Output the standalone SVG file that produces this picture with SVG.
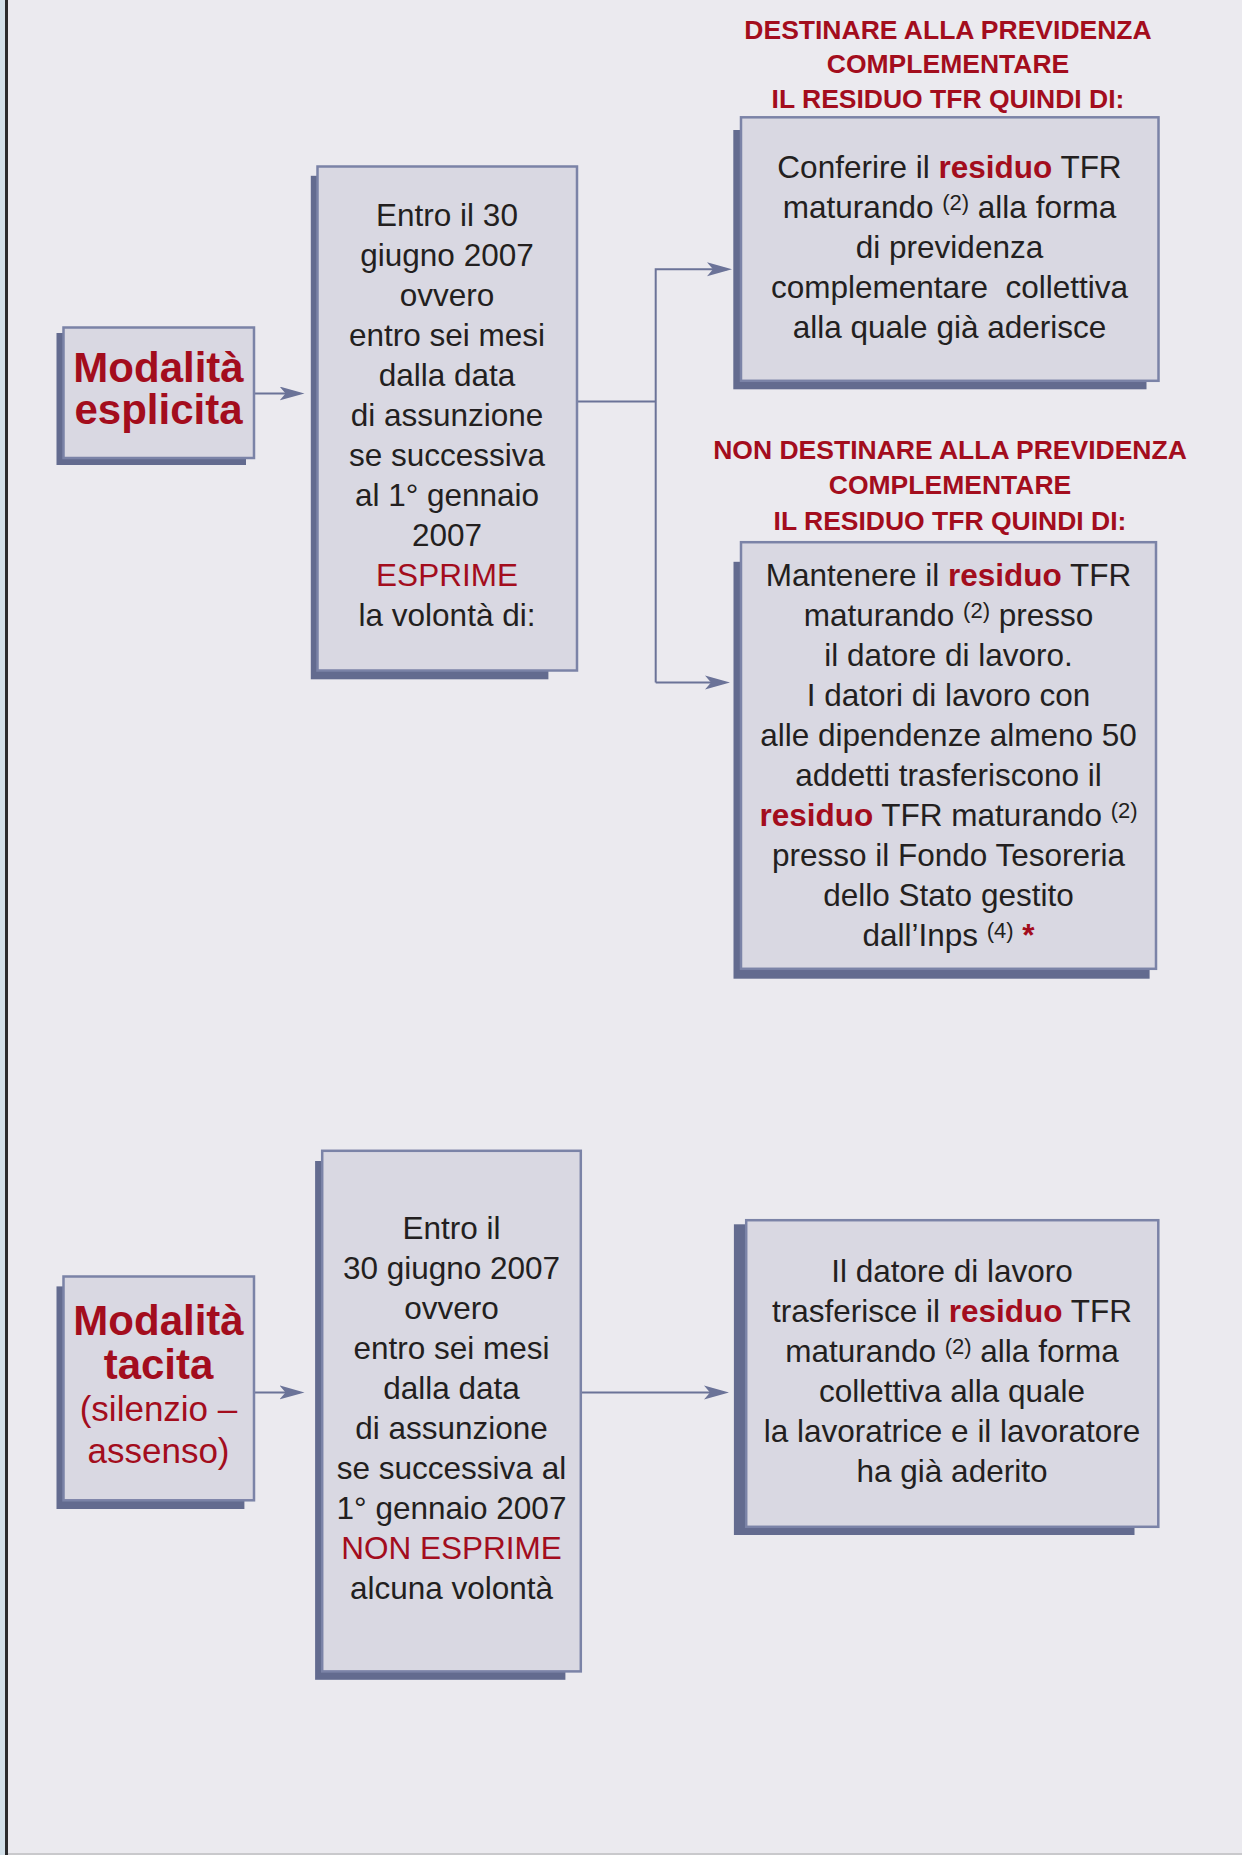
<svg xmlns="http://www.w3.org/2000/svg" width="1242" height="1855" viewBox="0 0 1242 1855">
  <style>
    .t{font-family:"Liberation Sans",Arial,sans-serif;font-size:31.5px;fill:#231f20;text-anchor:middle}
    .r{fill:#a30d1d}
    .b{font-weight:bold}
    .sup{font-size:22px}
    .h{font-family:"Liberation Sans",Arial,sans-serif;font-weight:bold;font-size:26.5px;fill:#a30d1d;text-anchor:middle}
    .m{font-family:"Liberation Sans",Arial,sans-serif;font-weight:bold;font-size:42px;fill:#a30d1d;text-anchor:middle}
    .ms{font-family:"Liberation Sans",Arial,sans-serif;font-size:35px;fill:#a30d1d;text-anchor:middle}
    .frame{fill:#d9d8e2;stroke:#7b83a7;stroke-width:2.5}
    .shadow{fill:#636b8f}
    .conn{stroke:#6b7398;stroke-width:2;fill:none}
  </style>
  <defs>
    <marker id="arr" markerUnits="userSpaceOnUse" markerWidth="26" markerHeight="16" refX="20" refY="7" orient="auto">
      <path d="M0,0 L25,7 L0,14 L6,7 Z" fill="#6b7398"/>
    </marker>
  </defs>

  <rect x="0" y="0" width="1242" height="1855" fill="#ebeaef"/>
  <rect x="0" y="0" width="5" height="1855" fill="#d3e0e9"/>
  <rect x="5" y="0" width="3" height="1855" fill="#2b2b2d"/>
  <rect x="8" y="1853" width="1234" height="2" fill="#c9c9cc"/>

  <g id="connectors">
    <path class="conn" d="M255,393.5 H299.5" marker-end="url(#arr)"/>
    <path class="conn" d="M578,401.4 H655.7"/>
    <path class="conn" d="M655.7,682.4 V269.3 H727" marker-end="url(#arr)"/>
    <path class="conn" d="M655.7,682.4 H725" marker-end="url(#arr)"/>
    <path class="conn" d="M255,1392.4 H299.5" marker-end="url(#arr)"/>
    <path class="conn" d="M582,1392.4 H724" marker-end="url(#arr)"/>
  </g>

  <g id="title-destinare">
    <text class="h" x="948" y="39">DESTINARE ALLA PREVIDENZA</text>
    <text class="h" x="948" y="73">COMPLEMENTARE</text>
    <text class="h" x="948" y="108">IL RESIDUO TFR QUINDI DI:</text>
  </g>

  <g id="title-non-destinare">
    <text class="h" x="950" y="459">NON DESTINARE ALLA PREVIDENZA</text>
    <text class="h" x="950" y="494">COMPLEMENTARE</text>
    <text class="h" x="950" y="529.5">IL RESIDUO TFR QUINDI DI:</text>
  </g>

  <g id="modalita-esplicita">
    <rect class="shadow" x="56.5" y="333" width="189.5" height="132"/>
    <rect class="frame" x="63.5" y="327.5" width="190.5" height="130.5"/>
    <text class="m" x="158.5" y="381.5">Modalità</text>
    <text class="m" x="158.5" y="424">esplicita</text>
  </g>

  <g id="esplicita-condizione">
    <rect class="shadow" x="310.8" y="175.8" width="237.6" height="503.5"/>
    <rect class="frame" x="317.5" y="166.5" width="259.5" height="504"/>
    <text class="t" x="447" y="226">Entro il 30</text>
    <text class="t" x="447" y="266">giugno 2007</text>
    <text class="t" x="447" y="306">ovvero</text>
    <text class="t" x="447" y="346">entro sei mesi</text>
    <text class="t" x="447" y="386">dalla data</text>
    <text class="t" x="447" y="426">di assunzione</text>
    <text class="t" x="447" y="466">se successiva</text>
    <text class="t" x="447" y="506">al 1° gennaio</text>
    <text class="t" x="447" y="546">2007</text>
    <text class="t r" x="447" y="586">ESPRIME</text>
    <text class="t" x="447" y="626">la volontà di:</text>
  </g>

  <g id="conferire">
    <rect class="shadow" x="733.3" y="130" width="413.2" height="259.3"/>
    <rect class="frame" x="741" y="117.3" width="417.5" height="263.5"/>
    <text class="t" x="949.5" y="178">Conferire il <tspan class="r b">residuo</tspan> TFR</text>
    <text class="t" x="949.5" y="218">maturando <tspan class="sup" dy="-8">(2)</tspan><tspan dy="8"> alla forma</tspan></text>
    <text class="t" x="949.5" y="258">di previdenza</text>
    <text class="t" x="949.5" y="298">complementare &#160;collettiva</text>
    <text class="t" x="949.5" y="338">alla quale già aderisce</text>
  </g>

  <g id="mantenere">
    <rect class="shadow" x="733.5" y="561.8" width="416.1" height="416.9"/>
    <rect class="frame" x="741" y="542.2" width="415" height="426.6"/>
    <text class="t" x="948.5" y="586">Mantenere il <tspan class="r b">residuo</tspan> TFR</text>
    <text class="t" x="948.5" y="626">maturando <tspan class="sup" dy="-8">(2)</tspan><tspan dy="8"> presso</tspan></text>
    <text class="t" x="948.5" y="666">il datore di lavoro.</text>
    <text class="t" x="948.5" y="706">I datori di lavoro con</text>
    <text class="t" x="948.5" y="746">alle dipendenze almeno 50</text>
    <text class="t" x="948.5" y="786">addetti trasferiscono il</text>
    <text class="t" x="948.5" y="826"><tspan class="r b">residuo</tspan> TFR maturando <tspan class="sup" dy="-8">(2)</tspan></text>
    <text class="t" x="948.5" y="866">presso il Fondo Tesoreria</text>
    <text class="t" x="948.5" y="906">dello Stato gestito</text>
    <text class="t" x="948.5" y="946">dall’Inps <tspan class="sup" dy="-8">(4)</tspan><tspan class="r b" dy="8"> *</tspan></text>
  </g>

  <g id="modalita-tacita">
    <rect class="shadow" x="56.5" y="1286.4" width="187.9" height="222.6"/>
    <rect class="frame" x="63.5" y="1276.5" width="190.5" height="223.8"/>
    <text class="m" x="158.5" y="1335">Modalità</text>
    <text class="m" x="158.5" y="1378.5">tacita</text>
    <text class="ms" x="158.5" y="1421">(silenzio –</text>
    <text class="ms" x="158.5" y="1463">assenso)</text>
  </g>

  <g id="tacita-condizione">
    <rect class="shadow" x="315.1" y="1161" width="250.3" height="518.8"/>
    <rect class="frame" x="322.2" y="1150.8" width="258.6" height="520.6"/>
    <text class="t" x="451.5" y="1239">Entro il</text>
    <text class="t" x="451.5" y="1279">30 giugno 2007</text>
    <text class="t" x="451.5" y="1319">ovvero</text>
    <text class="t" x="451.5" y="1359">entro sei mesi</text>
    <text class="t" x="451.5" y="1399">dalla data</text>
    <text class="t" x="451.5" y="1439">di assunzione</text>
    <text class="t" x="451.5" y="1479">se successiva al</text>
    <text class="t" x="451.5" y="1519">1° gennaio 2007</text>
    <text class="t r" x="451.5" y="1559">NON ESPRIME</text>
    <text class="t" x="451.5" y="1599">alcuna volontà</text>
  </g>

  <g id="trasferisce">
    <rect class="shadow" x="733.9" y="1224.3" width="400.6" height="310.7"/>
    <rect class="frame" x="746.2" y="1220.2" width="412.1" height="306.6"/>
    <text class="t" x="952" y="1282">Il datore di lavoro</text>
    <text class="t" x="952" y="1322">trasferisce il <tspan class="r b">residuo</tspan> TFR</text>
    <text class="t" x="952" y="1362">maturando <tspan class="sup" dy="-8">(2)</tspan><tspan dy="8"> alla forma</tspan></text>
    <text class="t" x="952" y="1402">collettiva alla quale</text>
    <text class="t" x="952" y="1442">la lavoratrice e il lavoratore</text>
    <text class="t" x="952" y="1482">ha già aderito</text>
  </g>
</svg>
